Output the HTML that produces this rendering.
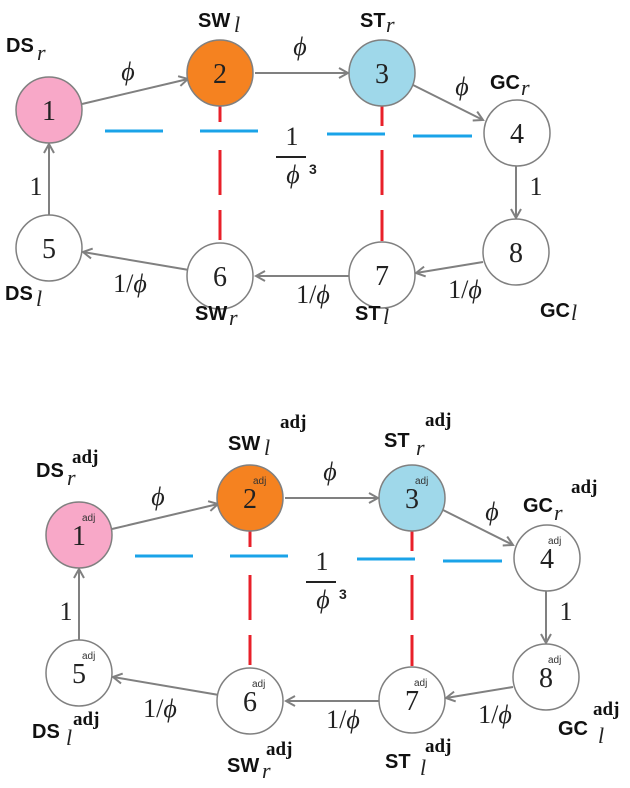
<!DOCTYPE html>
<html><head><style>body{margin:0;background:#fff}</style></head><body>
<svg width="630" height="783" xmlns="http://www.w3.org/2000/svg" font-family="Liberation Serif, serif">
<defs>
<marker id="a" markerWidth="12" markerHeight="12" refX="10" refY="6" orient="auto" markerUnits="userSpaceOnUse"><path d="M1,1 L10,6 L1,11" fill="none" stroke="#808080" stroke-width="2"/></marker>
<g id="d">
<g stroke="#808080" stroke-width="2" fill="none">
<line x1="82" y1="104" x2="188" y2="79" marker-end="url(#a)"/>
<line x1="255" y1="73" x2="348" y2="73" marker-end="url(#a)"/>
<line x1="413" y1="85" x2="483" y2="120" marker-end="url(#a)"/>
<line x1="516" y1="166" x2="516" y2="218" marker-end="url(#a)"/>
<line x1="483" y1="262" x2="416" y2="273" marker-end="url(#a)"/>
<line x1="349" y1="276" x2="256" y2="276" marker-end="url(#a)"/>
<line x1="189" y1="270" x2="83" y2="252" marker-end="url(#a)"/>
<line x1="49" y1="215" x2="49" y2="144" marker-end="url(#a)"/>
</g>
<g stroke="#1aa3e8" stroke-width="3">
<line x1="105" y1="131" x2="163" y2="131"/><line x1="200" y1="131" x2="258" y2="131"/>
<line x1="327" y1="134" x2="385" y2="134"/><line x1="413" y1="136" x2="472" y2="136"/>
</g>
<g stroke="#e8202a" stroke-width="3">
<line x1="220" y1="106" x2="220" y2="122"/><line x1="220" y1="150" x2="220" y2="195"/><line x1="220" y1="210" x2="220" y2="240"/>
<line x1="382" y1="106" x2="382" y2="126"/><line x1="382" y1="150" x2="382" y2="195"/><line x1="382" y1="210" x2="382" y2="241"/>
</g>
<g stroke="#808080" stroke-width="1.5">
<circle cx="49" cy="110" r="33" fill="#f8a8c8"/>
<circle cx="220" cy="73" r="33" fill="#f58220"/>
<circle cx="382" cy="73" r="33" fill="#9fd8ea"/>
<circle cx="517" cy="133" r="33" fill="#fff"/>
<circle cx="516" cy="252" r="33" fill="#fff"/>
<circle cx="382" cy="275" r="33" fill="#fff"/>
<circle cx="220" cy="276" r="33" fill="#fff"/>
<circle cx="49" cy="248" r="33" fill="#fff"/>
</g>
<g font-size="28" text-anchor="middle" fill="#222">
<text x="49" y="120">1</text><text x="220" y="83">2</text><text x="382" y="83">3</text>
<text x="517" y="143">4</text><text x="516" y="262">8</text><text x="382" y="285">7</text>
<text x="220" y="286">6</text><text x="49" y="258">5</text>
</g>
<g font-size="26" font-style="italic" fill="#222" text-anchor="middle">
<text x="128" y="80">ϕ</text><text x="300" y="55">ϕ</text><text x="462" y="95">ϕ</text>
<text x="293" y="183">ϕ</text>
</g>
<g font-size="26" fill="#222" text-anchor="middle">
<text x="292" y="145">1</text><text x="36" y="195">1</text><text x="536" y="195">1</text>
<text x="465" y="298">1/<tspan font-style="italic">ϕ</tspan></text>
<text x="313" y="303">1/<tspan font-style="italic">ϕ</tspan></text>
<text x="130" y="292">1/<tspan font-style="italic">ϕ</tspan></text>
</g>
<line x1="276" y1="157" x2="306" y2="157" stroke="#222" stroke-width="2"/>
<text x="309" y="174" font-family="Liberation Sans, sans-serif" font-weight="bold" font-size="14" fill="#222">3</text>
</g>
</defs>
<use href="#d"/>
<g font-family="Liberation Sans, sans-serif" font-weight="bold" font-size="20" fill="#111">
<text x="6" y="52">DS</text><text x="198" y="27">SW</text><text x="360" y="27">ST</text>
<text x="490" y="89">GC</text><text x="540" y="317">GC</text><text x="355" y="320">ST</text>
<text x="195" y="320">SW</text><text x="5" y="300">DS</text>
</g>
<g font-size="22" font-style="italic" fill="#222">
<text x="37" y="60">r</text><text x="234" y="32">l</text><text x="386" y="32">r</text>
<text x="521" y="95">r</text><text x="571" y="320">l</text><text x="383" y="324">l</text>
<text x="229" y="325">r</text><text x="36" y="306">l</text>
</g>
<g transform="translate(30,425)">
<use href="#d"/>
<g font-size="10" font-family="Liberation Sans, sans-serif" fill="#333">
<text x="52" y="96">adj</text><text x="223" y="59">adj</text><text x="385" y="59">adj</text>
<text x="518" y="119">adj</text><text x="518" y="238">adj</text><text x="384" y="261">adj</text>
<text x="222" y="262">adj</text><text x="52" y="234">adj</text>
</g>
</g>
<g font-family="Liberation Sans, sans-serif" font-weight="bold" font-size="20" fill="#111">
<text x="36" y="477">DS</text><text x="228" y="450">SW</text><text x="384" y="447">ST</text>
<text x="523" y="512">GC</text><text x="558" y="735">GC</text><text x="385" y="768">ST</text>
<text x="227" y="772">SW</text><text x="32" y="738">DS</text>
</g>
<g font-size="22" font-style="italic" fill="#222">
<text x="67" y="485">r</text><text x="264" y="455">l</text><text x="416" y="455">r</text>
<text x="554" y="520">r</text><text x="598" y="743">l</text><text x="420" y="775">l</text>
<text x="262" y="778">r</text><text x="66" y="745">l</text>
</g>
<g font-size="19" font-weight="bold" fill="#111">
<text x="72" y="463">adj</text><text x="280" y="428">adj</text><text x="425" y="426">adj</text>
<text x="571" y="493">adj</text><text x="593" y="715">adj</text><text x="425" y="752">adj</text>
<text x="266" y="755">adj</text><text x="73" y="725">adj</text>
</g>
</svg>
</body></html>
